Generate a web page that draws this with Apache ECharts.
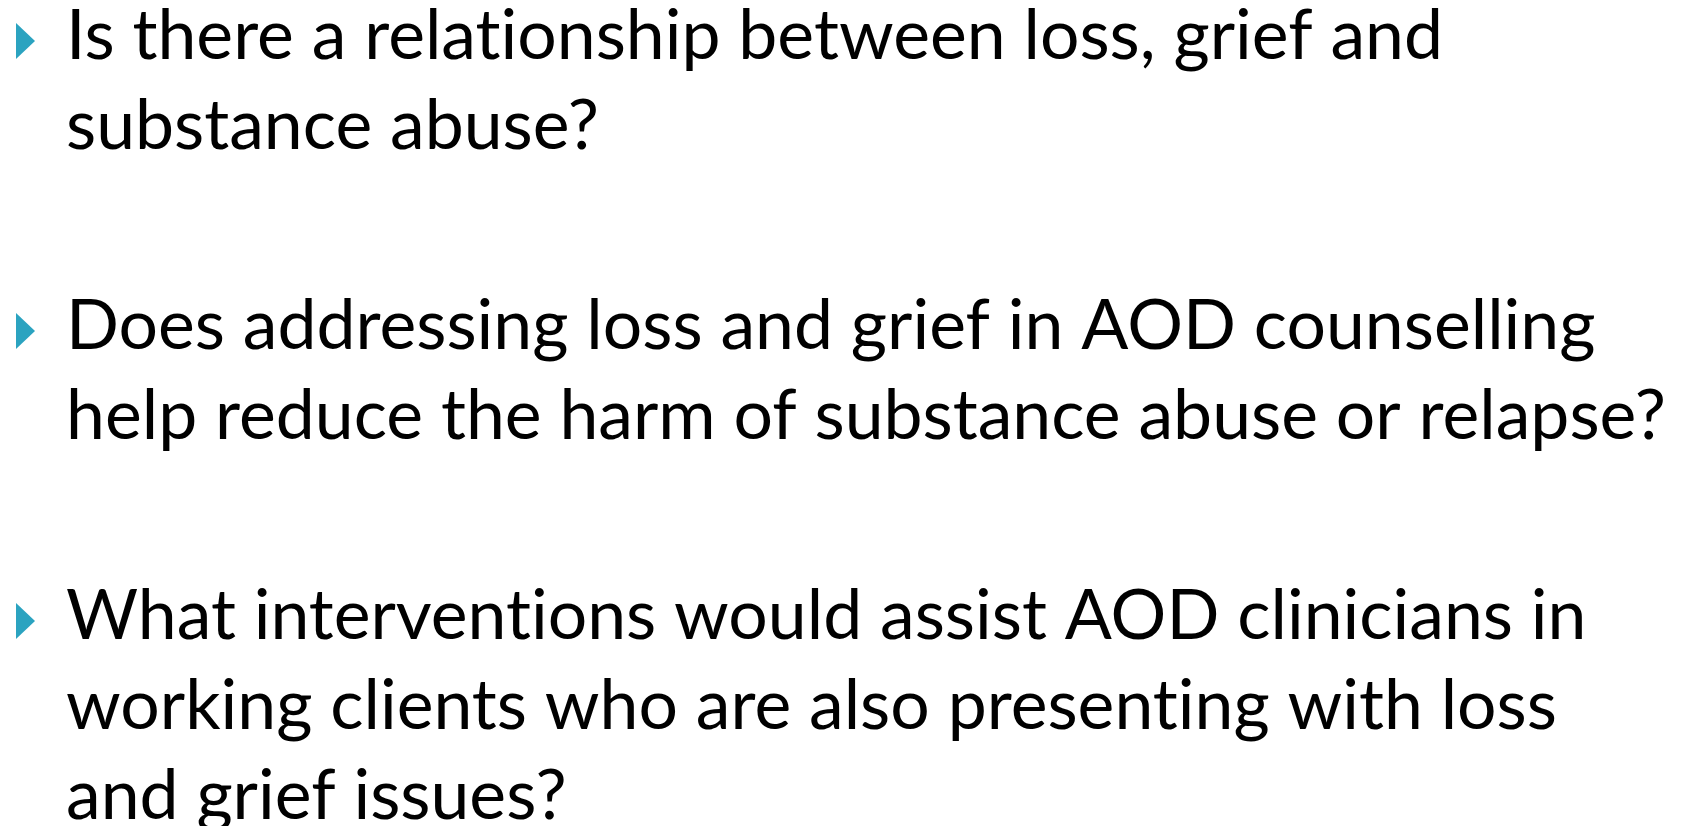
<!DOCTYPE html>
<html>
<head>
<meta charset="utf-8">
<title>Loss, grief and substance abuse</title>
<script src="https://cdn.jsdelivr.net/npm/echarts@6/dist/echarts.min.js"></script>
<style>
  html, body { margin: 0; padding: 0; background: #ffffff; }
  #main { width: 1690px; height: 826px; }
</style>
</head>
<body>
<div id="main"></div>
<script>
// slide content: one array of wrapped lines per bullet
const bullet1 = ['Is there a relationship between loss, grief and', 'substance abuse?'];
const bullet2 = ['Does addressing loss and grief in AOD counselling', 'help reduce the harm of substance abuse or relapse?'];
const bullet3 = ['What interventions would assist AOD clinicians in', 'working clients who are also presenting with loss', 'and grief issues?'];
const bullets = [bullet1, bullet2, bullet3];

const fontFamily = 'Lato';
const textColor = '#000000';
const bulletColor = '#2BA3C0';

// layout measured from the slide
const textLeft = 66;
const textRight = 1667;
const firstBaselines = [59, 349, 639];
const lineGap = 90;

// Lato joins "ti" / "fi" into ligatures, the slide font does not
const noLig = (s) => s.replace(/t(?=i)/g, 't\u200C').replace(/f(?=[il])/g, 'f\u200C');

const chart = echarts.init(document.getElementById('main'));

// size the font so the longest line spans the same width as on the slide
const ctx = document.createElement('canvas').getContext('2d');
ctx.font = '100px ' + fontFamily;
let widest = 0;
bullets.forEach((b) => b.forEach((l) => { widest = Math.max(widest, ctx.measureText(noLig(l)).width); }));
const fontSize = Math.round(100 * (textRight - textLeft) / widest * 10) / 10;
ctx.font = fontSize + 'px ' + fontFamily;
ctx.textBaseline = 'middle';
const midToBase = ctx.measureText('H').actualBoundingBoxDescent;

const graphics = [];
bullets.forEach((lines, i) => {
  const base = firstBaselines[i];
  graphics.push({
    type: 'polygon',
    shape: { points: [[16, base - 36], [35, base - 18], [16, base]] },
    style: { fill: bulletColor },
  });
  lines.forEach((line, j) => {
    graphics.push({
      type: 'text',
      x: textLeft,
      y: base + j * lineGap - midToBase,
      style: {
        text: noLig(line),
        fill: textColor,
        font: fontSize + 'px ' + fontFamily,
        verticalAlign: 'middle',
        align: 'left',
      },
    });
  });
});

chart.setOption({
  backgroundColor: '#ffffff',
  animation: false,
  graphic: graphics,
});
</script>
</body>
</html>
